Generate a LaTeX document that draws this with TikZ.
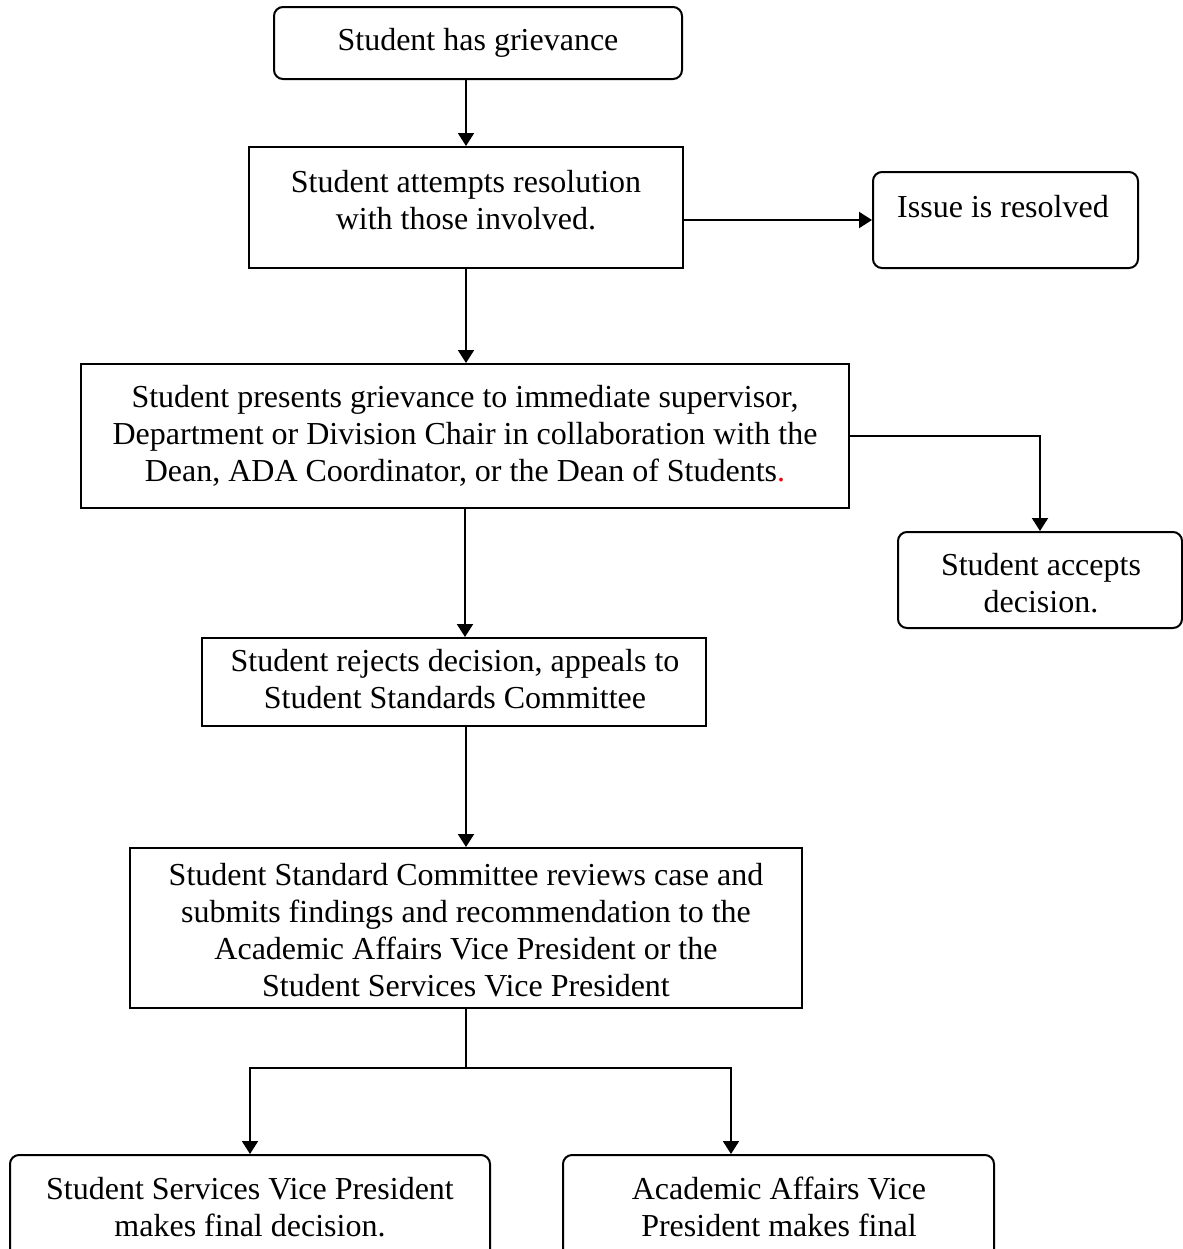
\documentclass[tikz,border=0pt]{standalone}
\usepackage{fontspec}
\setmainfont{Liberation Serif}
\usetikzlibrary{arrows.meta}
\begin{document}
\begin{tikzpicture}[x=0.5pt,y=-0.5pt,
  line width=1pt,
  box/.style={draw, rectangle, inner sep=0pt},
  rbox/.style={draw, rectangle, rounded corners=4.5pt, inner sep=0pt},
  txt/.style={align=center, inner sep=0pt, font=\fontsize{16}{18.5}\selectfont},
  arr/.style={-{Triangle[length=6.5pt,width=8pt]}}]
\useasboundingbox (0,0) rectangle (1183,1249);
% boxes
\node[rbox, minimum width=204pt, minimum height=36pt] (b1) at (478,43) {};
\node[box, minimum width=217pt, minimum height=60.5pt] (b2) at (466,207.5) {};
\node[rbox, minimum width=132.5pt, minimum height=48pt] (issue) at (1005.5,220) {};
\node[box, minimum width=384pt, minimum height=72pt] (b3) at (465,436) {};
\node[rbox, minimum width=142pt, minimum height=48pt] (accept) at (1040,580) {};
\node[box, minimum width=252pt, minimum height=44pt] (b4) at (454,682) {};
\node[box, minimum width=336pt, minimum height=80pt] (b5) at (466,928) {};
\node[rbox, minimum width=240pt, minimum height=60pt] (b6) at (250,1215) {};
\node[rbox, minimum width=215.5pt, minimum height=60pt] (b7) at (778.5,1215) {};
% texts
\node[txt] (t1) at (478,43) {Student has grievance};
\node[txt] (t2) at (466,200) {Student attempts resolution\\with those involved.};
\node[txt] (t3) at (1003,207) {Issue is resolved};
\node[txt] (t4) at (465,436) {Student presents grievance to immediate supervisor,\\Department or Division Chair in collaboration with the\\Dean, ADA Coordinator, or the Dean of Students\textcolor{red}{.}};
\node[txt] (t5) at (1041,583) {Student accepts\\decision.};
\node[txt] (t6) at (455,679) {Student rejects decision, appeals to\\Student Standards Committee};
\node[txt] (t7) at (466,930) {Student Standard Committee reviews case and\\submits findings and recommendation to the\\Academic Affairs Vice President or the\\Student Services Vice President};
\node[txt] (t8) at (250,1207) {Student Services Vice President\\makes final decision.};
\node[txt] (t9) at (779,1207) {Academic Affairs Vice\\President makes final};
% connectors
\draw[arr] (b2.north |- b1.south) -- (b2.north);
\draw[arr] (b2.east |- issue.west) -- (issue.west);
\draw[arr] (b2.south) -- (b2.south |- b3.north);
\draw[arr] (b3.east) -| (accept.north);
\draw[arr] (b3.south) -- (b3.south |- b4.north);
\draw[arr] (b5.north |- b4.south) -- (b5.north);
\coordinate (j) at (466,1068);
\coordinate (jR) at (731,1068);
\draw (b5.south) -- (j);
\draw[arr] (j) -| (b6.north);
\draw[arr] (j) -- (jR) -- (jR |- b7.north);
\end{tikzpicture}
\end{document}
